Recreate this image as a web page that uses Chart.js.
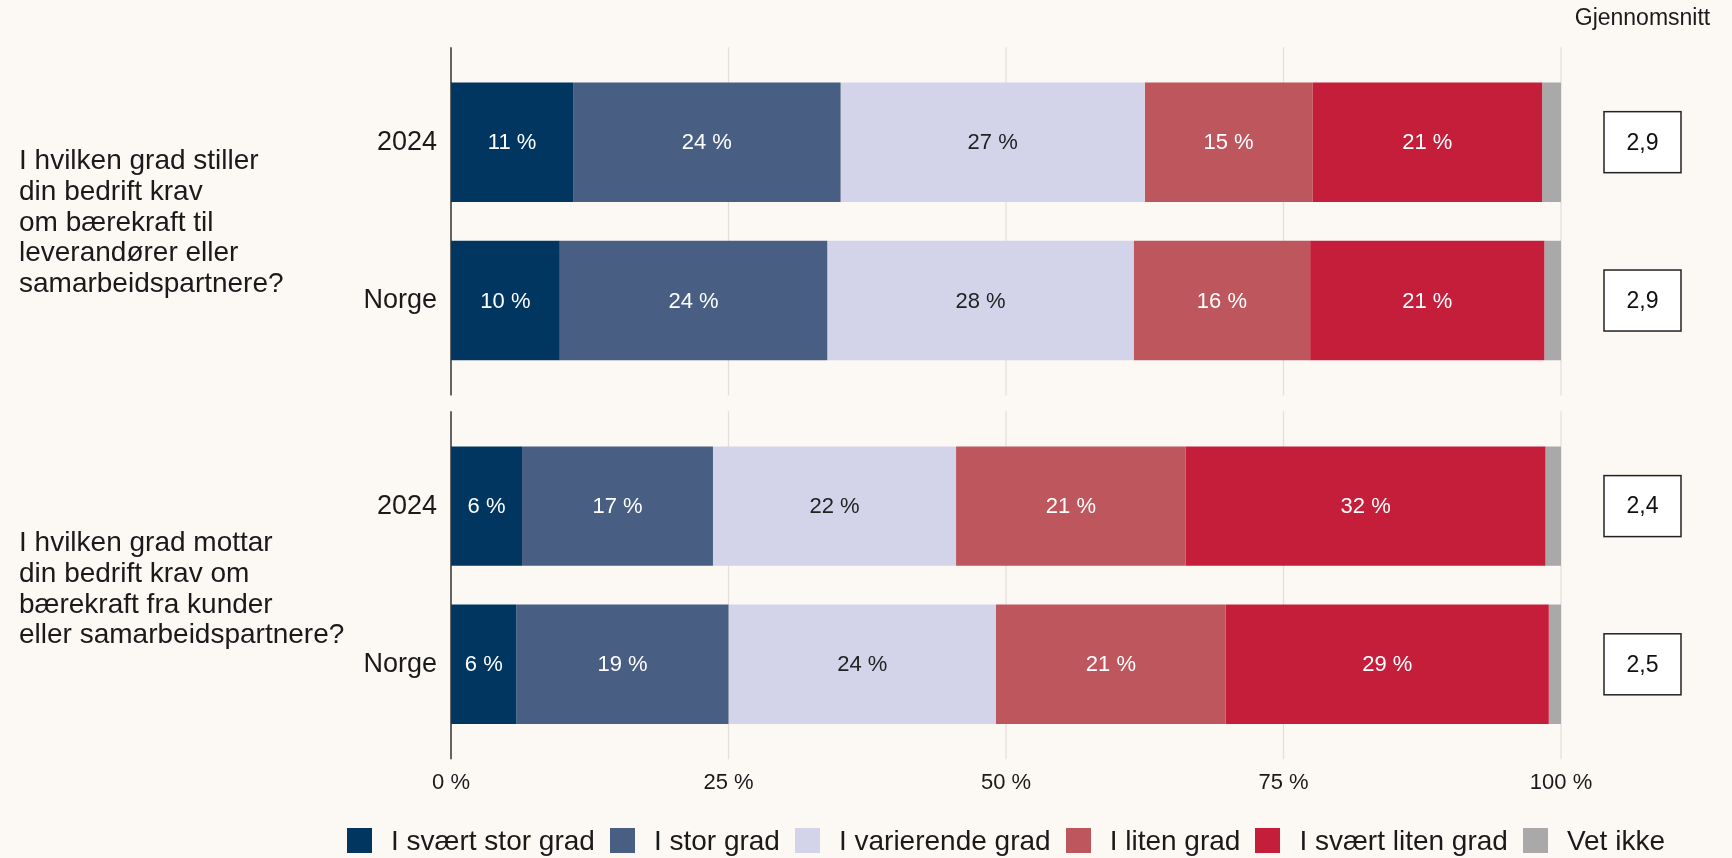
<!DOCTYPE html>
<html>
<head>
<meta charset="utf-8">
<title>Krav om bærekraft</title>
<script src="https://cdn.jsdelivr.net/npm/chart.js@4.4.1/dist/chart.umd.min.js"></script>
<style>
body{margin:0;background:#fcf8f4;overflow:hidden;font-family:"Liberation Sans", Arial, sans-serif;}
.wrap{position:absolute;left:0;top:0;width:1732px;height:858px;}
#legend{position:absolute;top:827.5px;height:25px;display:flex;justify-content:center;align-items:center;white-space:nowrap;}
#legend .item{display:flex;align-items:center;margin-right:15px;}
#legend .item:last-child{margin-right:0;}
#legend .sw{width:25px;height:25px;margin-right:19px;}
#legend .tx{font-size:28px;color:#1a1a1a;line-height:25px;}
</style>
</head>
<body>
<div class="wrap" id="top"><canvas id="chartTop"></canvas></div>
<div class="wrap" id="bottom"><canvas id="chartBottom"></canvas></div>
<div id="legend"></div>
<script>

let rowLabels = ["2024","Norge"];

let questionTop = ["I hvilken grad stiller","din bedrift krav","om bærekraft til","leverandører eller","samarbeidspartnere?"];
let questionBottom = ["I hvilken grad mottar","din bedrift krav om","bærekraft fra kunder","eller samarbeidspartnere?"];

let categories = ["I svært stor grad","I stor grad","I varierende grad","I liten grad","I svært liten grad","Vet ikke"];
let colors = ["#003660","#485f83","#d3d4e9","#be565e","#c41e3a","#a9a9a9"];

// rows: stiller 2024, stiller Norge, mottar 2024, mottar Norge
let svaertStor  = [11.0, 9.8, 6.4, 5.9];
let stor        = [24.1, 24.1, 17.2, 19.1];
let varierende  = [27.4, 27.6, 21.9, 24.1];
let liten       = [15.1, 15.9, 20.7, 20.7];
let svaertLiten = [20.7, 21.1, 32.4, 29.1];
let vetIkke     = [1.7, 1.5, 1.4, 1.1];

let snitt = [2.9, 2.9, 2.4, 2.5];

let xTicks = [0,25,50,75,100];

let FONT = '"Liberation Sans", Arial, sans-serif';
Chart.defaults.font.family = FONT;
Chart.defaults.color = "#1a1a1a";


function makeDatasets(start){

let series = [svaertStor,stor,varierende,liten,svaertLiten,vetIkke];

return categories.map((c,i)=>({
label:c,
data:series[i].slice(start,start+2),
backgroundColor:colors[i],
borderWidth:0,
categoryPercentage:1,
barPercentage:0.755
}));

}


function extras(lines,start,header,shift){

return {
id:"extras",

beforeDatasetsDraw(chart){
let ctx=chart.ctx, x=chart.scales.x, y=chart.scales.y, a=chart.chartArea;
let ext=(y.getPixelForValue(1)-y.getPixelForValue(0))*0.1;
ctx.save();
ctx.strokeStyle="#e3dfdb";
ctx.lineWidth=1.3;
xTicks.slice(1).forEach(v=>{
let px=x.getPixelForValue(v);
ctx.beginPath();
ctx.moveTo(px,a.top-ext);
ctx.lineTo(px,a.bottom+ext);
ctx.stroke();
});
ctx.restore();
},

afterDatasetsDraw(chart){
let ctx=chart.ctx, x=chart.scales.x, y=chart.scales.y, a=chart.chartArea;
let ext=(y.getPixelForValue(1)-y.getPixelForValue(0))*0.1;
ctx.save();
ctx.font="22px "+FONT;
ctx.textAlign="center";
ctx.textBaseline="middle";
chart.data.datasets.forEach((ds,i)=>{
if(i==categories.length-1) return;
chart.getDatasetMeta(i).data.forEach((bar,j)=>{
let p=bar.getProps(["x","y","base"],true);
ctx.fillStyle = i==2 ? "#222222" : "#ffffff";
ctx.fillText(Math.round(ds.data[j])+" %",(p.x+p.base)/2,p.y+1);
});
});

/* axis line at 0 */
let x0=x.getPixelForValue(0);
ctx.strokeStyle="#333333";
ctx.lineWidth=1.5;
ctx.beginPath();
ctx.moveTo(x0,a.top-ext);
ctx.lineTo(x0,a.bottom+ext);
ctx.stroke();
ctx.restore();
},

afterDraw(chart){
let ctx=chart.ctx, y=chart.scales.y, a=chart.chartArea;
ctx.save();

ctx.fillStyle="#1a1a1a";
ctx.font="28px "+FONT;
ctx.textAlign="left";
ctx.textBaseline="middle";
let mid=(a.top+a.bottom)/2+shift;
lines.forEach((t,k)=>{
ctx.fillText(t,19,mid+(k-(lines.length-1)/2)*30.7);
});

let cx=a.right+81.5;
rowLabels.forEach((r,j)=>{
let cy=y.getPixelForValue(j);
ctx.fillStyle="#ffffff";
ctx.fillRect(cx-38.5,cy-30.5,77,61);
ctx.strokeStyle="#222222";
ctx.lineWidth=1.5;
ctx.strokeRect(cx-38.5,cy-30.5,77,61);
ctx.fillStyle="#111111";
ctx.font="23px "+FONT;
ctx.textAlign="center";
ctx.fillText(snitt[start+j].toFixed(1).replace(".",","),cx,cy+1);
});

if(header){
ctx.fillStyle="#1a1a1a";
ctx.font="23px "+FONT;
ctx.textAlign="center";
ctx.fillText("Gjennomsnitt",cx,19);
}

ctx.restore();
}
};

}


let yAxis = {
stacked:true,
grid:{display:false,drawTicks:false},
border:{display:false},
ticks:{font:{size:27},color:"#1a1a1a",padding:14},
afterFit(s){ s.width=451; }
};


let chartTop = new Chart(document.getElementById("chartTop"),{

type:"bar",

data:{
labels:rowLabels,
datasets:makeDatasets(0)
},

options:{
indexAxis:"y",
responsive:true,
maintainAspectRatio:false,
animation:false,
layout:{padding:{top:63,bottom:478.3,left:0,right:171}},
scales:{
x:{display:false,stacked:true,min:0,max:100},
y:yAxis
},
plugins:{
legend:{display:false},
tooltip:{enabled:false}
}
},

plugins:[extras(questionTop,0,true,1.5)]

});


let chartBottom = new Chart(document.getElementById("chartBottom"),{

type:"bar",

data:{
labels:rowLabels,
datasets:makeDatasets(2)
},

options:{
indexAxis:"y",
responsive:true,
maintainAspectRatio:false,
animation:false,
layout:{padding:{top:427,bottom:35.6,left:0,right:171}},
scales:{
x:{
stacked:true,
min:0,
max:100,
grid:{display:false,drawTicks:false},
border:{display:false},
afterBuildTicks(s){ s.ticks=xTicks.map(v=>({value:v})); },
ticks:{
padding:26.3,
font:{size:22,lineHeight:1.2},
color:"#1a1a1a",
callback:v=>v+" %"
}
},
y:yAxis
},
plugins:{
legend:{display:false},
tooltip:{enabled:false}
}
},

plugins:[extras(questionBottom,2,false,4.5)]

});


/* legend in html, centred under the plot area like the original */

function buildLegend(chart){

let legend=document.getElementById("legend");
let a=chart.chartArea;
legend.style.left=a.left+"px";
legend.style.width=(a.right-a.left)+"px";
legend.innerHTML="";

let items=Chart.defaults.plugins.legend.labels.generateLabels(chart);

items.forEach(it=>{
legend.innerHTML+=`
<div class="item">
<div class="sw" style="background:${it.fillStyle}"></div>
<div class="tx">${it.text}</div>
</div>
`;
});

}

buildLegend(chartBottom);

</script>
</body>
</html>
